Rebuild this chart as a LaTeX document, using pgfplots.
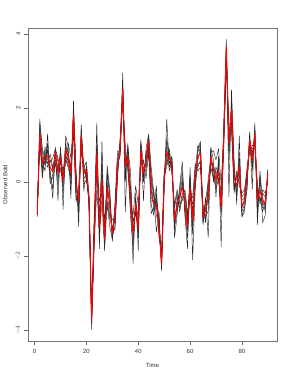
\documentclass[border=0pt]{standalone}
\usepackage{fontspec}
\setmainfont{Liberation Sans}
\usepackage{pgfplots}
\usepackage{pgfplotstable}
\pgfplotsset{compat=1.18}
\pgfplotstableread{
t r b1 b2 b3 b4 b5 b6 b7
1 -0.85 -0.94 -0.80 -0.88 -0.75 -0.90 -0.82 -0.86
2 1.32 1.70 1.20 1.45 1.05 1.55 1.30 1.10
3 0.50 0.80 0.10 0.55 0.20 0.90 0.35 0.65
4 0.70 0.45 0.85 0.30 0.95 0.60 0.75 0.50
5 0.73 1.05 0.50 1.30 0.60 0.85 0.40 0.90
6 0.40 0.20 0.75 0.10 0.55 0.30 0.60 -0.05
7 0.28 -0.44 0.40 0.10 0.65 -0.20 0.35 0.20
8 0.82 0.95 0.70 0.50 0.90 0.75 0.60 0.85
9 0.23 -0.50 0.40 0.10 0.65 0.30 -0.10 0.55
10 0.70 0.95 0.50 0.60 0.35 0.85 0.75 0.30
11 0.05 -0.74 0.30 -0.10 0.40 0.20 -0.30 0.10
12 0.87 1.25 0.60 0.95 0.45 1.10 0.70 0.80
13 0.69 0.95 0.40 0.80 1.05 0.35 0.60 0.70
14 0.23 -0.44 0.50 0.05 0.65 0.20 -0.15 0.40
15 1.80 2.20 1.50 1.95 1.30 1.70 1.60 1.85
16 -0.13 0.30 -0.40 0.10 -0.55 0.05 -0.25 0.20
17 -0.50 -1.20 -0.30 -0.80 -0.10 -0.60 -0.45 -0.90
18 1.23 1.55 0.90 1.40 0.80 1.10 1.30 1.45
19 0.23 -0.25 0.50 0.10 0.40 0.30 -0.05 0.35
20 0.33 0.45 0.10 0.20 0.55 0.35 0.05 0.15
21 -0.50 -0.60 -0.40 -0.55 -0.35 -0.70 -0.45 -0.50
22 -3.74 -3.98 -3.60 -3.80 -3.50 -3.70 -3.85 -3.65
23 -1.40 -1.10 -1.60 -1.30 -0.90 -1.50 -1.20 -1.70
24 0.78 1.60 0.40 1.00 0.20 0.80 1.20 -0.20
25 -1.20 -1.80 -0.80 -1.40 -0.50 -1.60 -1.00 -1.30
26 0.05 1.10 -0.50 0.40 -0.30 0.20 0.70 -0.60
27 -1.57 -1.85 -1.20 -1.70 -1.00 -1.60 -1.40 -1.80
28 -0.13 0.45 -0.50 0.20 -0.30 0.00 0.30 -0.60
29 -0.58 -0.20 -1.00 -0.40 -0.90 -0.70 -0.30 -1.20
30 -1.40 -1.60 -1.20 -1.50 -1.00 -1.30 -1.45 -1.55
31 -0.94 -0.60 -1.30 -0.80 -1.10 -0.70 -1.20 -0.90
32 0.42 0.85 0.10 0.50 0.30 0.65 0.20 0.45
33 0.96 0.80 1.20 0.70 1.10 0.90 1.05 0.75
34 2.50 2.95 2.20 2.70 2.10 2.40 2.60 2.30
35 0.42 -0.80 0.80 0.20 1.00 0.50 0.00 0.60
36 0.69 1.00 0.40 0.90 0.30 0.70 1.05 0.50
37 -0.49 -0.20 -0.80 0.30 -0.60 -0.40 -0.90 -0.10
38 -1.40 -2.20 -1.00 -1.60 -0.90 -1.30 -1.80 -1.10
39 -0.58 -0.30 -0.90 -0.60 -0.10 -0.80 -0.50 -0.70
40 -1.20 -1.85 -0.80 -1.40 -0.60 -1.20 -1.00 -1.50
41 0.87 1.15 0.60 1.00 0.50 0.90 0.70 1.10
42 0.23 -0.50 0.40 0.10 0.60 0.30 0.00 0.50
43 0.60 0.90 0.30 0.70 0.10 0.55 0.80 0.40
44 1.14 1.30 1.00 1.20 0.80 1.25 0.90 1.05
45 -0.22 0.40 -0.60 0.20 -0.85 -0.10 0.10 -0.40
46 -0.58 -0.30 -0.90 -0.40 -0.70 -0.20 -0.80 -0.60
47 -0.58 -1.35 -0.30 -0.70 -0.10 -0.90 -0.50 -0.40
48 -1.20 -0.80 -1.40 -1.00 -1.50 -1.10 -0.90 -1.30
49 -2.20 -2.40 -2.00 -2.30 -1.90 -2.10 -2.25 -2.15
50 0.05 -0.20 0.30 0.00 0.20 -0.10 0.15 0.05
51 0.82 1.70 0.50 1.10 0.40 0.90 1.20 0.60
52 0.64 0.40 0.90 0.50 0.80 0.30 0.70 0.55
53 0.50 0.60 0.30 0.70 0.20 0.55 0.40 0.65
54 -1.03 -1.50 -0.70 -1.20 -0.60 -1.10 -0.90 -1.30
55 -0.58 -0.90 -0.30 -0.80 -0.20 -0.60 -0.70 -0.40
56 -0.40 -0.10 -0.80 -0.30 -0.60 -0.50 -0.20 -0.70
57 -0.13 0.55 -0.40 0.10 -0.50 0.00 0.30 -0.30
58 -0.58 -0.90 -0.30 -0.70 -0.20 -0.60 -0.80 -0.40
59 -1.20 -1.80 -0.90 -1.30 -0.80 -1.10 -1.50 -1.00
60 -0.13 0.40 -0.40 0.10 -0.50 0.20 -0.20 0.00
61 -1.03 -2.10 -0.60 -1.20 -0.40 -0.90 -1.40 -0.80
62 0.14 -0.20 0.40 0.00 0.50 0.30 0.10 -0.10
63 0.69 0.90 0.40 0.80 0.30 1.00 0.60 0.50
64 0.78 1.10 0.60 1.05 0.40 0.80 0.90 0.50
65 -0.94 -1.15 -0.70 -1.00 -0.60 -1.10 -0.80 -0.95
66 -0.76 -0.40 -1.00 -0.60 -1.10 -0.70 -0.90 -0.50
67 -0.40 -1.50 -0.10 -0.60 0.10 -0.30 -0.80 0.00
68 0.69 0.95 0.40 0.80 0.60 0.50 0.90 0.30
69 0.33 0.60 0.10 0.85 0.20 0.50 0.00 0.40
70 0.05 -0.40 0.30 0.60 -0.20 0.10 0.40 -0.10
71 0.33 0.70 0.00 0.90 0.10 0.40 0.20 0.50
72 -0.67 -1.75 -0.40 -0.10 -0.80 -0.60 -0.30 -0.90
73 1.23 1.50 0.90 1.30 1.00 1.20 1.40 1.10
74 3.67 3.85 3.40 3.60 3.20 3.50 3.70 3.30
75 1.05 -0.40 1.40 0.80 1.60 1.00 0.60 1.20
76 1.95 2.50 1.60 2.20 1.40 1.80 2.00 1.70
77 0.14 0.60 -0.20 0.30 -0.30 0.10 0.40 -0.10
78 -0.13 -0.60 0.20 -0.30 0.30 -0.10 -0.40 0.10
79 0.42 1.25 0.00 0.60 -0.10 0.40 0.80 0.20
80 -0.67 -0.95 -0.40 -0.80 -0.30 -0.70 -0.90 -0.50
81 -0.49 -0.80 -0.30 -0.60 -0.20 -0.50 -0.70 -0.40
82 0.14 -0.10 0.40 0.00 0.30 0.20 -0.20 0.10
83 1.14 1.35 0.90 1.20 0.80 1.10 1.30 1.00
84 0.60 -0.20 0.90 0.40 1.00 0.70 0.30 0.80
85 1.32 1.60 1.00 1.40 0.90 1.20 1.50 1.10
86 -0.49 -1.15 -0.20 -0.70 0.00 -0.40 -0.90 -0.30
87 -0.22 0.30 -0.50 0.10 -0.60 -0.20 0.20 -0.40
88 -0.49 -1.10 -0.30 -0.70 -0.20 -0.60 -0.40 -0.80
89 -0.58 -0.90 -0.40 -0.70 -0.30 -0.60 -0.80 -0.50
90 0.23 0.35 0.10 0.30 0.00 0.20 0.25 0.15
}\datatable
\begin{document}
\begin{tikzpicture}
\path[use as bounding box] (0,0) rectangle (291bp,376bp);
\begin{axis}[
  at={(28bp,35bp)}, anchor=south west,
  scale only axis, width=249bp, height=313bp,
  xmin=-2.56, xmax=93.56, ymin=-4.29, ymax=4.16,
  xtick={0,20,40,60,80}, ytick={-4,-2,0,2,4},
  yticklabels={$-4$,$-2$,0,2,4},
  axis line style={black!55, line width=0.5pt},
  tick style={black!60, line width=0.4pt},
  tick align=outside, major tick length=4bp,
  xtick pos=bottom, ytick pos=left,
  /pgf/number format/assume math mode=true,
  ticklabel style={font=\fontsize{6}{7}\selectfont, text=black!80},
  yticklabel style={rotate=90, anchor=south, yshift=0bp},
  xticklabel style={anchor=north, yshift=-1bp},
  xlabel={Time}, ylabel={Observed Bold},
  label style={font=\fontsize{6}{7}\selectfont, text=black!80},
  xlabel style={at={(axis description cs:0.5,0)}, anchor=north, yshift=-19bp},
  ylabel style={at={(axis description cs:0,0.5)}, anchor=south, yshift=17bp},
  clip=false,
]
\foreach \c in {b1,b2,b3,b4,b5,b6,b7}{
  \addplot[black!85, line width=0.45pt, line join=round] table[x=t, y=\c] {\datatable};
}
\addplot[red, line width=1pt, line join=round] table[x=t, y=r] {\datatable};
\end{axis}
\end{tikzpicture}
\end{document}
